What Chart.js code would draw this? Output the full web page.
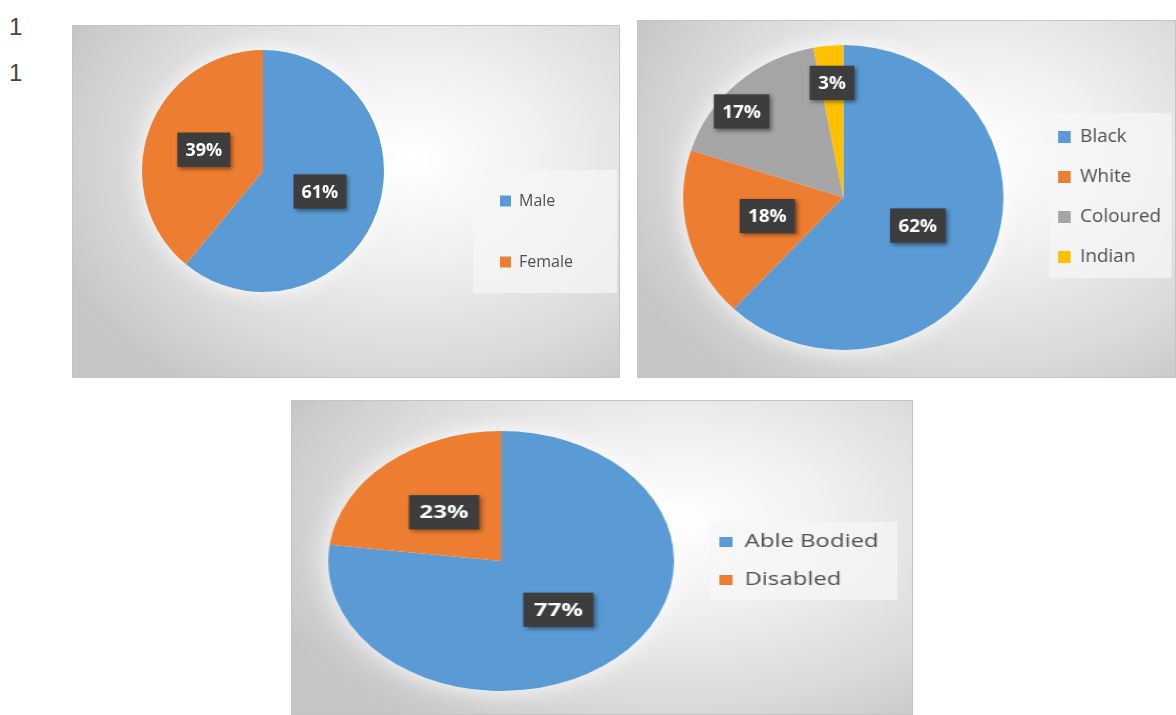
<!DOCTYPE html>
<html>
<head>
<meta charset="utf-8">
<script src="https://cdn.jsdelivr.net/npm/chart.js@4.4.1/dist/chart.umd.min.js"></script>
<style>
    body {
        margin: 0;
        width: 1176px;
        height: 715px;
        overflow: hidden;
        position: relative;
        background: #ffffff;
    }
    .panel {
        position: absolute;
        overflow: hidden;
        background: radial-gradient(ellipse 70% 80% at 62% 38%, #ffffff 0%, #f0f0f0 35%, #d9d9d9 75%, #c6c6c6 100%);
        box-shadow: inset 0 0 0 1px #c4c4c4;
    }
    .panel canvas { display: block; transform-origin: 0 0; }
    .mark {
        position: absolute;
        left: 9px;
        font: 24px 'Liberation Sans', sans-serif;
        color: #444444;
    }
</style>
</head>
<body>
<div class="mark" style="top:13px">1</div>
<div class="mark" style="top:59px">1</div>

<div class="panel" style="left:72px;top:25px;width:548px;height:353px">
    <canvas id="genderChart" width="548" height="353"></canvas>
</div>
<div class="panel" style="left:637px;top:20px;width:539px;height:358px">
    <canvas id="raceChart" width="513" height="358" style="transform:scaleX(1.05)"></canvas>
</div>
<div class="panel" style="left:291px;top:400px;width:622px;height:315px">
    <canvas id="abilityChart" width="468" height="315" style="transform:scaleX(1.33)"></canvas>
</div>

<script>
// Chart data
const genderLabels = ['Male', 'Female'];
const genderValues = [61, 39];

const raceLabels = ['Black', 'White', 'Coloured', 'Indian'];
const raceValues = [62, 18, 17, 3];

const abilityLabels = ['Able Bodied', 'Disabled'];
const abilityValues = [77, 23];

const sliceColors = ['#5B9BD5', '#ED7D31', '#A5A5A5', '#FFC000'];

Chart.defaults.font.family = "'Open Sans', sans-serif";
Chart.defaults.animation = false;

// Legend placement, legend panel, white glow and dark percentage boxes
const pieDecor = {
    id: 'pieDecor',
    afterLayout(chart, args, opts) {
        const legend = chart.legend;
        legend.left = opts.legendX;
        legend.top = opts.legendY;
        legend.right = chart.width;
        legend.bottom = chart.height;
    },
    beforeDraw(chart, args, opts) {
        const ctx = chart.ctx;
        const b = opts.legendBg;
        ctx.save();
        ctx.fillStyle = 'rgba(246,246,246,0.7)';
        ctx.fillRect(b[0], b[1], b[2], b[3]);
        ctx.restore();
    },
    beforeDatasetsDraw(chart) {
        const ctx = chart.ctx;
        const arc = chart.getDatasetMeta(0).data[0];
        ctx.save();
        ctx.shadowColor = 'rgba(255,255,255,0.95)';
        ctx.shadowBlur = 22;
        ctx.fillStyle = '#ffffff';
        ctx.beginPath();
        ctx.arc(arc.x, arc.y, arc.outerRadius, 0, Math.PI * 2);
        ctx.fill();
        ctx.restore();
    },
    afterDatasetsDraw(chart, args, opts) {
        const ctx = chart.ctx;
        const meta = chart.getDatasetMeta(0);
        const values = chart.data.datasets[0].data;
        const size = opts.labelSize;
        ctx.save();
        ctx.font = 'bold ' + size + "px 'Open Sans', sans-serif";
        ctx.textAlign = 'center';
        ctx.textBaseline = 'middle';
        meta.data.forEach((arc, i) => {
            const shift = opts.labelShift ? opts.labelShift[i] * Math.PI / 180 : 0;
            const mid = (arc.startAngle + arc.endAngle) / 2 + shift;
            const k = opts.labelRadius ? opts.labelRadius[i] : 0.5;
            const x = arc.x + Math.cos(mid) * arc.outerRadius * k;
            const y = arc.y + Math.sin(mid) * arc.outerRadius * k;
            const text = values[i] + '%';
            const w = ctx.measureText(text).width + 16;
            const h = size * 1.9;
            ctx.shadowColor = 'rgba(0,0,0,0.45)';
            ctx.shadowBlur = 4;
            ctx.shadowOffsetX = 2;
            ctx.shadowOffsetY = 2;
            ctx.fillStyle = '#3d3d3d';
            ctx.fillRect(x - w / 2, y - h / 2, w, h);
            ctx.shadowColor = 'transparent';
            ctx.fillStyle = '#ffffff';
            ctx.fillText(text, x, y + 1);
        });
        ctx.restore();
    }
};

function makePie(id, labels, values, cfg) {
    return new Chart(document.getElementById(id), {
        type: 'pie',
        data: {
            labels: labels,
            datasets: [{
                data: values,
                backgroundColor: sliceColors.slice(0, values.length),
                borderWidth: 0,
                clip: false
            }]
        },
        options: {
            responsive: false,
            events: [],
            layout: { padding: cfg.padding },
            plugins: {
                legend: {
                    position: 'chartArea',
                    fullSize: false,
                    align: 'start',
                    labels: {
                        color: '#4f4f4f',
                        font: { size: cfg.legendSize },
                        boxWidth: cfg.box,
                        boxHeight: cfg.box,
                        padding: cfg.legendGap
                    }
                },
                tooltip: { enabled: false },
                pieDecor: {
                    legendX: cfg.legendX,
                    legendY: cfg.legendY,
                    legendBg: cfg.legendBg,
                    labelSize: cfg.labelSize,
                    labelRadius: cfg.labelRadius,
                    labelShift: cfg.labelShift
                }
            }
        },
        plugins: [pieDecor]
    });
}

makePie('genderChart', genderLabels, genderValues, {
    padding: { left: 70, top: 25, right: 236, bottom: 86 },
    legendSize: 16, box: 11, legendGap: 45,
    legendX: 383, legendY: 123,
    legendBg: [401, 145, 144, 123],
    labelSize: 18,
    labelRadius: [0.5, 0.52]
});

makePie('raceChart', raceLabels, raceValues, {
    padding: { left: 44, top: 25, right: 164, bottom: 28 },
    legendSize: 18, box: 12, legendGap: 22,
    legendX: 379, legendY: 86,
    legendBg: [393, 93, 116, 165],
    labelSize: 18,
    labelRadius: [0.5, 0.49, 0.85, 0.755],
    labelShift: [0, 0, -7, 0]
});

makePie('abilityChart', abilityLabels, abilityValues, {
    padding: { left: 28, top: 31, right: 180, bottom: 24 },
    legendSize: 18, box: 10, legendGap: 20,
    legendX: 302, legendY: 113,
    legendBg: [315, 122, 141, 78],
    labelSize: 18,
    labelRadius: [0.5, 0.5]
});
</script>
</body>
</html>
